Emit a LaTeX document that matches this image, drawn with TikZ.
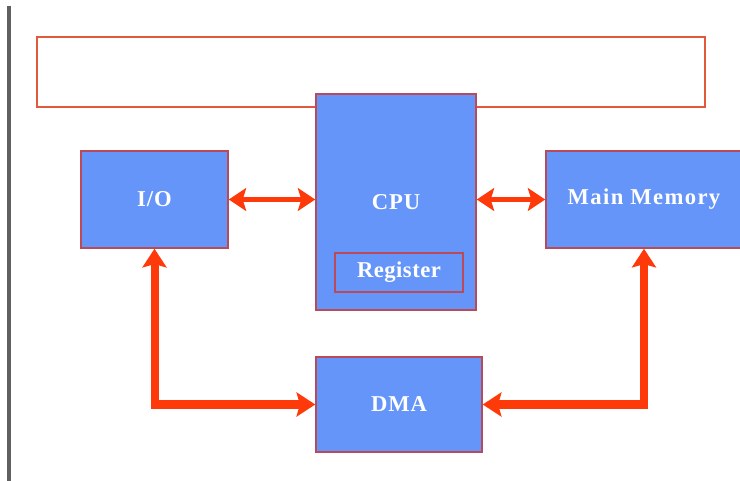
\documentclass[tikz,border=0pt]{standalone}
\usepackage{fontspec}
\setmainfont{Liberation Serif}
\usetikzlibrary{arrows.meta}
\definecolor{boxblue}{HTML}{6595F8}
\definecolor{boxedge}{HTML}{B84A5A}
\definecolor{linkred}{HTML}{FF3A0A}
\definecolor{frameedge}{HTML}{E05A3A}
\definecolor{sidegray}{HTML}{606060}
\begin{document}
\begin{tikzpicture}[x=0.75pt,y=-0.75pt,
  unit/.style={draw=boxedge,line width=1.1pt,fill=boxblue,text=white,
    font=\fontsize{17}{19}\selectfont\bfseries\addfontfeature{LetterSpace=4},
    inner sep=0pt,anchor=center},
  link/.style={draw=linkred,line width=3.8pt,
    {Stealth[length=13pt,width=17pt,inset=2.5pt]}-{Stealth[length=13pt,width=17pt,inset=2.5pt]}},
  bus/.style={draw=linkred,line width=6pt,
    {Stealth[length=14pt,width=18pt,inset=2.5pt]}-{Stealth[length=14pt,width=18pt,inset=2.5pt]}}]
  \clip (0,0) rectangle (740,481);
  \fill[white] (0,0) rectangle (740,481);
  % side rule
  \draw[sidegray,line width=2.3pt] (9,6) -- (9,481);
  % empty frame above the CPU
  \node[draw=frameedge,line width=1.1pt,minimum width=668*0.75pt,minimum height=70*0.75pt,
        inner sep=0pt] (frame) at (371,72) {};
  % units
  \node[unit,minimum width=147*0.75pt,minimum height=97*0.75pt] (io) at (154.5,199.5) {I/O};
  \node[unit,minimum width=160*0.75pt,minimum height=216*0.75pt] (cpu) at (396,202) {CPU};
  \node[unit,minimum width=128*0.75pt,minimum height=39*0.75pt,
        font=\fontsize{17}{19}\selectfont\bfseries\addfontfeature{LetterSpace=2}] (reg) at (399,272.5) {Register};
  \node[unit,minimum width=196*0.75pt,minimum height=97*0.75pt,
        font=\fontsize{17}{19}\selectfont\bfseries\addfontfeature{LetterSpace=6}] (mem) at (644,199.5) {Main Memory};
  \node[unit,minimum width=166*0.75pt,minimum height=95*0.75pt] (dma) at (399,404.5) {DMA};
  % connections
  \draw[link] (io.east) -- (io.east -| cpu.west);
  \draw[link] (mem.west -| cpu.east) -- (mem.west);
  \draw[bus] (io.south) |- (dma.west);
  \draw[bus] (mem.south) |- (dma.east);
\end{tikzpicture}
\end{document}
